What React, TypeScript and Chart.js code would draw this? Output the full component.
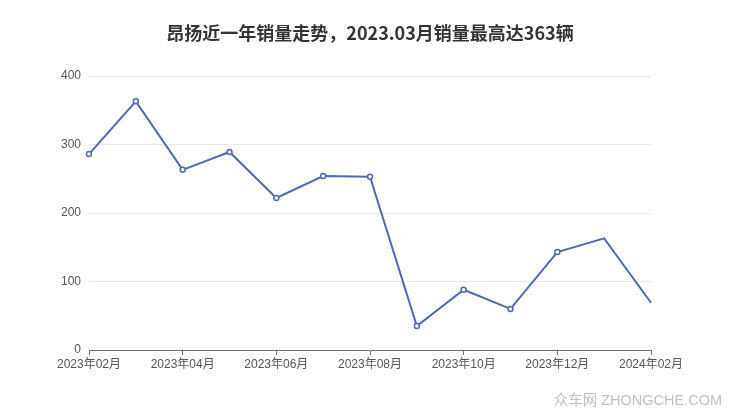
import React, { useEffect, useRef } from "react";
import { Chart, registerables } from "chart.js";

Chart.register(...registerables);

const TITLE = "昂扬近一年销量走势，2023.03月销量最高达363辆";
const MONTHS = [
  "2023年02月", "2023年03月", "2023年04月", "2023年05月", "2023年06月", "2023年07月",
  "2023年08月", "2023年09月", "2023年10月", "2023年11月", "2023年12月", "2024年01月", "2024年02月",
];
const SALES = [286, 363, 263, 289, 222, 254, 253, 35, 88, 60, 143, 163, 69];
const Y_TICKS = [0, 100, 200, 300, 400];
const WATERMARK = "众车网 ZHONGCHE.COM";

const FONT = "'Liberation Sans', Arial, 'Noto Sans CJK SC', sans-serif";

export default function App() {
  const ref = useRef<HTMLCanvasElement | null>(null);

  useEffect(() => {
    document.body.style.margin = "0";
    const ctx = ref.current!;
    const chart = new Chart(ctx, {
      type: "line",
      data: {
        labels: MONTHS,
        datasets: [
          {
            data: SALES,
            borderColor: "#5069b3",
            borderWidth: 2,
            backgroundColor: "#ffffff",
            pointBackgroundColor: "#ffffff",
            pointBorderColor: "#5069b3",
            pointBorderWidth: 1.5,
            pointRadius: SALES.map((_, i) => (i < SALES.length - 2 ? 2.5 : 0)),
            tension: 0,
            fill: false,
          },
        ],
      },
      options: {
        animation: false,
        responsive: false,
        devicePixelRatio: 1,
        layout: { padding: { left: 0, right: 89, top: 76, bottom: 0 } },
        plugins: {
          legend: { display: false },
          tooltip: { enabled: false },
          title: { display: false },
        },
        scales: {
          x: {
            type: "category",
            offset: false,
            afterFit: (s: any) => {
              s.height = 67;
            },
            border: { display: true, color: "#6E7079", width: 1 },
            grid: {
              drawOnChartArea: false,
              drawTicks: true,
              tickLength: 5,
              color: (c: any) => (c.index % 2 === 0 ? "#6E7079" : "rgba(0,0,0,0)"),
            },
            ticks: {
              autoSkip: false,
              maxRotation: 0,
              padding: 2,
              color: "#555555",
              font: { size: 12, family: FONT },
              callback: (_v: any, i: number) => (i % 2 === 0 ? MONTHS[i] : ""),
            },
          },
          y: {
            min: 0,
            max: 400,
            afterFit: (s: any) => {
              s.width = 89;
            },
            afterBuildTicks: (s: any) => {
              s.ticks = Y_TICKS.map((v) => ({ value: v }));
            },
            border: { display: false },
            grid: {
              drawTicks: false,
              color: (c: any) => (c.tick && c.tick.value === 0 ? "rgba(0,0,0,0)" : "#E6E9EF"),
            },
            ticks: {
              padding: 8,
              color: "#555555",
              font: { size: 12, family: FONT },
            },
          },
        },
      },
    });
    return () => chart.destroy();
  }, []);

  return (
    <div style={{ position: "relative", width: 740, height: 417, background: "#fff" }}>
      <div
        style={{
          position: "absolute",
          left: 0,
          width: 740,
          top: 20,
          textAlign: "center",
          fontFamily: "'Noto Sans CJK SC', sans-serif",
          fontWeight: "bold",
          fontSize: 18,
          lineHeight: "24px",
          color: "#333333",
          whiteSpace: "nowrap",
        }}
      >
        {TITLE}
      </div>
      <canvas ref={ref} width={740} height={417} style={{ display: "block" }} />
      <div
        style={{
          position: "absolute",
          right: 18,
          top: 388,
          fontFamily: "'Liberation Sans', 'Noto Sans CJK SC', sans-serif",
          fontSize: 14.5,
          color: "#c0c0c0",
          whiteSpace: "nowrap",
        }}
      >
        {WATERMARK}
      </div>
    </div>
  );
}
